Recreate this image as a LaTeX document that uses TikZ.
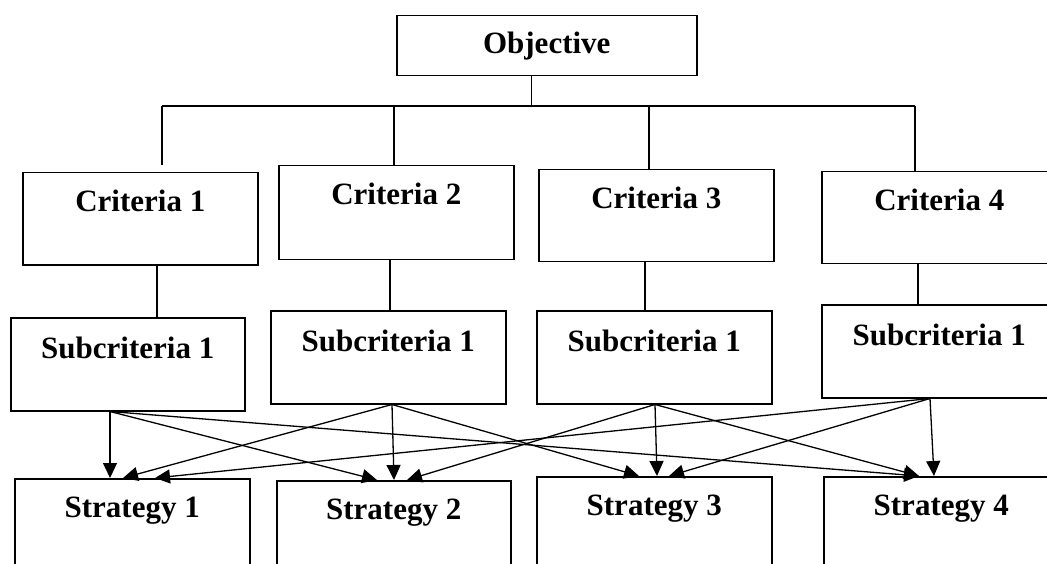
\documentclass[tikz,border=0pt]{standalone}
\usepackage{fontspec}
\setmainfont{Liberation Serif}
\usetikzlibrary{arrows.meta}

\tikzset{
  box/.style={draw, line width=1.5pt, inner sep=0pt, anchor=north west,
    minimum width=235pt, text height=38.5pt, text depth=53.5pt,
    font=\bfseries\fontsize{31}{36}\selectfont},
  subbox/.style={box, text height=41pt, text depth=52pt},
  link/.style={line width=1.3pt},
  flow/.style={line width=1.3pt, -{Triangle[width=14pt,length=15pt]}}
}

\begin{document}
\begin{tikzpicture}[x=1pt,y=-1pt]
\clip (0,0) rectangle (1047,564);
% goal
\node[box, minimum width=300pt, text height=38pt, text depth=22pt] (obj) at (396,15) {Objective};
% criteria
\node[box] (c1) at (22,172) {Criteria 1};
\node[box, text depth=55.5pt] (c2) at (278,165) {Criteria 2};
\node[box] (c3) at (538,169) {Criteria 3};
\node[box] (c4) at (821,171) {Criteria 4};
% subcriteria
\node[subbox, minimum width=234pt] (s1) at (10,317) {Subcriteria 1};
\node[subbox] (s2) at (270,310) {Subcriteria 1};
\node[subbox] (s3) at (536,310) {Subcriteria 1};
\node[subbox] (s4) at (821,304) {Subcriteria 1};
% strategies
\node[box] (st1) at (14,478) {Strategy 1};
\node[box, minimum width=234pt] (st2) at (276,480) {Strategy 2};
\node[box] (st3) at (536,476) {Strategy 3};
\node[box] (st4) at (823,476) {Strategy 4};

% tree lines
\draw[link] ([xshift=-15pt]obj.south) -- ++(0,31) coordinate (bus);
\coordinate (busL) at (162,106);
\coordinate (busR) at (915,106);
\draw[link] (busL) -- (busR);
\draw[link, shorten >=7pt] (busL) -- (busL |- c1.north);
\draw[link] (394,106) -- (c2.north -| 394,0);
\draw[link] (649,106) -- (c3.north -| 649,0);
\draw[link] (busR) -- (busR |- c4.north);
\foreach \c/\s/\x in {c1/s1/157, c2/s2/390, c3/s3/645, c4/s4/918}
  \draw[link] (\c.south -| \x,0) -- (\s.north -| \x,0);

% arrows to strategies
\foreach \a/\b/\p/\q in {s1/st1/110/110, s1/st2/110/377, s1/st4/110/919,
    s2/st1/392/123, s2/st2/392/394, s2/st3/392/639,
    s3/st2/655/407, s3/st3/655/657, s3/st4/655/919,
    s4/st1/930/155, s4/st3/930/669, s4/st4/930/934}
  \draw[flow] (\a.south -| \p,0) -- (\b.north -| \q,0);
\end{tikzpicture}
\end{document}
